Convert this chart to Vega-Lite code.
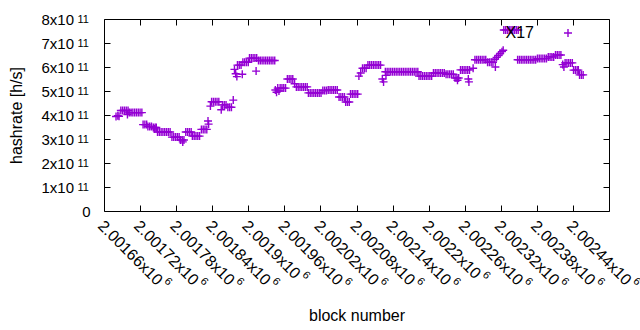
{
"$schema": "https://vega.github.io/schema/vega-lite/v6.json",
"autosize": {"type": "none"},
"padding": {"left": 104, "top": 19, "right": 31, "bottom": 119},
"width": 505,
"height": 192,
"background": "white",
"config": {
  "view": {"stroke": "black", "strokeWidth": 1},
  "font": "Liberation Sans",
  "axis": {"grid": false, "labelFont": "Liberation Sans", "titleFont": "Liberation Sans", "labelColor": "black", "titleColor": "black", "labelFontSize": 15, "titleFontSize": 16, "titleFontWeight": "normal", "tickColor": "black", "domain": false, "offset": 0}
},
"data": {"values": [
{"b":2001620,"h":3.94e11},{"b":2001623,"h":3.97e11},{"b":2001625,"h":3.95e11},
{"b":2001628,"h":4.19e11},{"b":2001631,"h":4.19e11},{"b":2001634,"h":4.19e11},{"b":2001637,"h":4.19e11},{"b":2001640,"h":4.19e11},
{"b":2001639,"h":4.02e11},
{"b":2001642,"h":4.1e11},{"b":2001645,"h":4.1e11},{"b":2001648,"h":4.1e11},{"b":2001651,"h":4.1e11},{"b":2001654,"h":4.1e11},{"b":2001657,"h":4.1e11},{"b":2001660,"h":4.1e11},{"b":2001663,"h":4.1e11},
{"b":2001665,"h":3.6e11},{"b":2001668,"h":3.6e11},{"b":2001671,"h":3.6e11},
{"b":2001673,"h":3.52e11},{"b":2001676,"h":3.52e11},{"b":2001679,"h":3.52e11},{"b":2001682,"h":3.48e11},{"b":2001685,"h":3.48e11},{"b":2001687,"h":3.48e11},{"b":2001684,"h":3.42e11},
{"b":2001689,"h":3.29e11},{"b":2001692,"h":3.29e11},{"b":2001695,"h":3.29e11},{"b":2001698,"h":3.29e11},{"b":2001701,"h":3.29e11},{"b":2001704,"h":3.29e11},{"b":2001707,"h":3.29e11},{"b":2001710,"h":3.29e11},
{"b":2001713,"h":3.08e11},{"b":2001716,"h":3.08e11},{"b":2001719,"h":3.08e11},{"b":2001722,"h":3.08e11},{"b":2001725,"h":3.08e11},
{"b":2001727,"h":2.96e11},{"b":2001730,"h":2.96e11},{"b":2001733,"h":2.96e11},{"b":2001731,"h":2.88e11},
{"b":2001736,"h":3.29e11},{"b":2001739,"h":3.29e11},{"b":2001742,"h":3.29e11},{"b":2001745,"h":3.29e11},
{"b":2001747,"h":3.12e11},{"b":2001750,"h":3.12e11},{"b":2001753,"h":3.12e11},{"b":2001756,"h":3.12e11},{"b":2001759,"h":3.12e11},
{"b":2001762,"h":3.4e11},{"b":2001765,"h":3.4e11},{"b":2001768,"h":3.4e11},{"b":2001771,"h":3.4e11},
{"b":2001773,"h":3.75e11},{"b":2001774,"h":3.62e11},
{"b":2001777,"h":4.37e11},
{"b":2001779,"h":4.55e11},{"b":2001782,"h":4.55e11},{"b":2001785,"h":4.55e11},{"b":2001788,"h":4.55e11},{"b":2001791,"h":4.55e11},
{"b":2001795,"h":4.22e11},
{"b":2001797,"h":4.42e11},{"b":2001800,"h":4.42e11},{"b":2001803,"h":4.42e11},{"b":2001806,"h":4.32e11},{"b":2001809,"h":4.32e11},{"b":2001812,"h":4.32e11},
{"b":2001815,"h":4.62e11},
{"b":2001817,"h":5.9e11},{"b":2001819,"h":5.72e11},{"b":2001821,"h":5.6e11},
{"b":2001822,"h":6.08e11},{"b":2001825,"h":6.08e11},{"b":2001828,"h":6.08e11},
{"b":2001830,"h":5.7e11},
{"b":2001831,"h":6.2e11},{"b":2001834,"h":6.2e11},{"b":2001837,"h":6.2e11},{"b":2001840,"h":6.2e11},
{"b":2001842,"h":6.37e11},{"b":2001845,"h":6.37e11},{"b":2001848,"h":6.37e11},{"b":2001851,"h":6.37e11},{"b":2001854,"h":6.37e11},
{"b":2001853,"h":5.83e11},
{"b":2001857,"h":6.27e11},{"b":2001860,"h":6.27e11},{"b":2001863,"h":6.27e11},{"b":2001866,"h":6.27e11},{"b":2001869,"h":6.27e11},{"b":2001872,"h":6.27e11},{"b":2001875,"h":6.27e11},{"b":2001878,"h":6.27e11},{"b":2001881,"h":6.27e11},{"b":2001884,"h":6.27e11},
{"b":2001885,"h":5.04e11},{"b":2001887,"h":4.95e11},{"b":2001889,"h":5.12e11},{"b":2001891,"h":5.0e11},
{"b":2001893,"h":5.12e11},{"b":2001896,"h":5.12e11},{"b":2001899,"h":5.12e11},{"b":2001902,"h":5.12e11},
{"b":2001905,"h":5.5e11},{"b":2001908,"h":5.5e11},{"b":2001911,"h":5.5e11},{"b":2001914,"h":5.5e11},
{"b":2001917,"h":5.3e11},
{"b":2001920,"h":5.17e11},{"b":2001923,"h":5.17e11},{"b":2001926,"h":5.17e11},{"b":2001929,"h":5.17e11},{"b":2001932,"h":5.17e11},{"b":2001935,"h":5.17e11},{"b":2001938,"h":5.17e11},
{"b":2001940,"h":4.92e11},{"b":2001943,"h":4.92e11},{"b":2001946,"h":4.92e11},{"b":2001949,"h":4.92e11},{"b":2001952,"h":4.92e11},{"b":2001955,"h":4.92e11},{"b":2001958,"h":4.92e11},{"b":2001961,"h":4.92e11},
{"b":2001964,"h":5.02e11},{"b":2001967,"h":5.02e11},{"b":2001970,"h":5.02e11},
{"b":2001973,"h":5.04e11},{"b":2001976,"h":5.04e11},{"b":2001979,"h":5.04e11},{"b":2001982,"h":5.04e11},{"b":2001985,"h":5.04e11},{"b":2001988,"h":5.04e11},
{"b":2001991,"h":4.75e11},{"b":2001994,"h":4.75e11},{"b":2001997,"h":4.75e11},{"b":2002000,"h":4.75e11},
{"b":2002002,"h":4.54e11},{"b":2002005,"h":4.54e11},{"b":2002008,"h":4.54e11},
{"b":2002010,"h":4.87e11},{"b":2002013,"h":4.87e11},{"b":2002016,"h":4.87e11},{"b":2002019,"h":4.87e11},{"b":2002022,"h":4.87e11},
{"b":2002024,"h":5.62e11},{"b":2002027,"h":5.75e11},
{"b":2002030,"h":5.95e11},{"b":2002033,"h":5.95e11},{"b":2002036,"h":5.95e11},
{"b":2002039,"h":6.08e11},{"b":2002042,"h":6.08e11},{"b":2002045,"h":6.08e11},{"b":2002048,"h":6.08e11},{"b":2002051,"h":6.08e11},{"b":2002054,"h":6.08e11},{"b":2002057,"h":6.08e11},{"b":2002060,"h":6.08e11},
{"b":2002063,"h":5.5e11},{"b":2002065,"h":5.38e11},{"b":2002069,"h":5.65e11},
{"b":2002068,"h":5.8e11},{"b":2002071,"h":5.8e11},{"b":2002074,"h":5.8e11},{"b":2002077,"h":5.8e11},{"b":2002080,"h":5.8e11},{"b":2002083,"h":5.8e11},{"b":2002086,"h":5.8e11},{"b":2002089,"h":5.8e11},{"b":2002092,"h":5.8e11},{"b":2002095,"h":5.8e11},{"b":2002098,"h":5.8e11},{"b":2002101,"h":5.8e11},{"b":2002104,"h":5.8e11},{"b":2002107,"h":5.8e11},{"b":2002110,"h":5.8e11},{"b":2002113,"h":5.8e11},{"b":2002116,"h":5.8e11},{"b":2002119,"h":5.8e11},{"b":2002122,"h":5.8e11},
{"b":2002124,"h":5.62e11},{"b":2002127,"h":5.62e11},{"b":2002130,"h":5.62e11},{"b":2002133,"h":5.62e11},{"b":2002136,"h":5.62e11},{"b":2002139,"h":5.62e11},{"b":2002142,"h":5.62e11},{"b":2002145,"h":5.62e11},
{"b":2002148,"h":5.75e11},{"b":2002151,"h":5.75e11},{"b":2002154,"h":5.75e11},{"b":2002157,"h":5.75e11},{"b":2002160,"h":5.75e11},{"b":2002163,"h":5.75e11},{"b":2002166,"h":5.75e11},
{"b":2002169,"h":5.7e11},{"b":2002172,"h":5.7e11},{"b":2002175,"h":5.7e11},{"b":2002178,"h":5.7e11},{"b":2002181,"h":5.7e11},
{"b":2002184,"h":5.54e11},{"b":2002187,"h":5.54e11},{"b":2002190,"h":5.54e11},{"b":2002188,"h":5.45e11},
{"b":2002193,"h":5.88e11},{"b":2002196,"h":5.88e11},{"b":2002199,"h":5.88e11},{"b":2002202,"h":5.88e11},{"b":2002205,"h":5.88e11},{"b":2002208,"h":5.88e11},
{"b":2002206,"h":5.5e11},{"b":2002207,"h":5.38e11},{"b":2002214,"h":5.95e11},
{"b":2002217,"h":6.3e11},{"b":2002220,"h":6.3e11},{"b":2002223,"h":6.3e11},{"b":2002226,"h":6.3e11},{"b":2002229,"h":6.3e11},{"b":2002232,"h":6.3e11},{"b":2002235,"h":6.3e11},
{"b":2002238,"h":6.2e11},{"b":2002241,"h":6.2e11},{"b":2002244,"h":6.2e11},{"b":2002247,"h":6.2e11},
{"b":2002251,"h":6.0e11},
{"b":2002250,"h":6.32e11},{"b":2002253,"h":6.4e11},{"b":2002256,"h":6.48e11},{"b":2002259,"h":6.56e11},{"b":2002262,"h":6.64e11},{"b":2002264,"h":6.7e11},
{"b":2002265,"h":7.54e11},{"b":2002268,"h":7.54e11},{"b":2002271,"h":7.54e11},{"b":2002274,"h":7.54e11},{"b":2002277,"h":7.54e11},{"b":2002280,"h":7.54e11},{"b":2002283,"h":7.54e11},{"b":2002286,"h":7.54e11},{"b":2002289,"h":7.54e11},
{"b":2002288,"h":6.3e11},{"b":2002291,"h":6.3e11},{"b":2002294,"h":6.3e11},{"b":2002297,"h":6.3e11},{"b":2002300,"h":6.3e11},{"b":2002303,"h":6.3e11},{"b":2002306,"h":6.3e11},{"b":2002309,"h":6.3e11},{"b":2002312,"h":6.3e11},{"b":2002315,"h":6.3e11},{"b":2002318,"h":6.3e11},
{"b":2002321,"h":6.35e11},{"b":2002324,"h":6.35e11},{"b":2002327,"h":6.35e11},{"b":2002330,"h":6.35e11},{"b":2002333,"h":6.35e11},{"b":2002336,"h":6.35e11},
{"b":2002339,"h":6.42e11},{"b":2002342,"h":6.42e11},{"b":2002345,"h":6.42e11},{"b":2002348,"h":6.42e11},
{"b":2002351,"h":6.5e11},{"b":2002354,"h":6.5e11},{"b":2002357,"h":6.5e11},{"b":2002360,"h":6.5e11},
{"b":2002363,"h":6.1e11},{"b":2002365,"h":6.0e11},
{"b":2002367,"h":6.17e11},{"b":2002370,"h":6.17e11},{"b":2002373,"h":6.17e11},{"b":2002376,"h":6.17e11},{"b":2002379,"h":6.17e11},
{"b":2002381,"h":5.87e11},{"b":2002384,"h":5.87e11},{"b":2002387,"h":5.87e11},{"b":2002389,"h":5.87e11},
{"b":2002391,"h":5.67e11},{"b":2002394,"h":5.67e11},{"b":2002397,"h":5.67e11}
]},
"layer": [
  {
    "mark": {"type": "point", "shape": "M-1,0H1M0,-1V1", "filled": false, "size": 64, "strokeWidth": 1.4, "opacity": 1},
    "encoding": {
      "x": {"field": "b", "type": "quantitative", "scale": {"domain": [2001600, 2002440], "nice": false, "zero": false},
        "axis": {"orient": "bottom", "title": "block number", "values": [2001660,2001720,2001780,2001840,2001900,2001960,2002020,2002080,2002140,2002200,2002260,2002320,2002380,2002440],
          "labelExpr": "format(datum.value/1e6, '.6~g') + 'x10'", "labelFontSize": 16, "labelAngle": 45, "labelAlign": "left", "labelBaseline": "middle", "labelOffset": -40, "labelPadding": 18, "labelOverlap": false, "labelBound": false, "labelFlush": false,
          "tickSize": -6, "titleY": 104, "titleBaseline": "middle"}},
      "y": {"field": "h", "type": "quantitative", "scale": {"domain": [0, 8e11], "nice": false},
        "axis": {"orient": "left", "title": "hashrate [h/s]", "values": [0,1e11,2e11,3e11,4e11,5e11,6e11,7e11,8e11],
          "labelExpr": "datum.value == 0 ? '0' : format(datum.value/1e11, 'd') + 'x10'",
          "labelPadding": {"condition": {"test": "datum.value == 0", "value": 20}, "value": 36.5}, "labelDy": 1, "tickSize": -6,
          "titleX": -88, "titleY": 96, "titleAngle": 270, "titleAlign": "center", "titleBaseline": "middle"}},
      "color": {"datum": "X17", "type": "nominal", "scale": {"range": ["#9400d3"]},
        "legend": {"orient": "none", "legendX": 456, "legendY": 6, "title": null, "labelAlign": "right", "labelOffset": -42, "labelFontSize": 16, "labelFont": "Liberation Sans", "labelColor": "black", "symbolType": "M-1,0H1M0,-1V1", "symbolSize": 64, "symbolStrokeWidth": 1.4, "symbolFillColor": "transparent"}}
    }
  },
  {
    "mark": {"type": "point", "opacity": 0},
    "encoding": {
      "x": {"field": "b", "type": "quantitative", "axis": {"orient": "top", "title": null, "labels": false, "tickSize": -6, "values": [2001660,2001720,2001780,2001840,2001900,2001960,2002020,2002080,2002140,2002200,2002260,2002320,2002380,2002440]}},
      "y": {"field": "h", "type": "quantitative", "axis": {"orient": "right", "title": null, "labels": false, "tickSize": -6, "values": [1e11,2e11,3e11,4e11,5e11,6e11,7e11]}}
    }
  },
  {
    "mark": {"type": "point", "opacity": 0},
    "encoding": {
      "x": {"field": "b", "type": "quantitative", "axis": {"orient": "bottom", "title": null, "ticks": false, "tickSize": 0, "values": [2001660,2001720,2001780,2001840,2001900,2001960,2002020,2002080,2002140,2002200,2002260,2002320,2002380,2002440],
        "labelExpr": "'6'", "labelFontSize": 11, "labelAngle": 45, "labelAlign": "left", "labelBaseline": "middle", "labelOverlap": false, "labelBound": false, "labelFlush": false,
        "labelOffset": {"condition": {"test": "datum.value == 2001900 || datum.value == 2002200", "value": 19}, "value": 25.2},
        "labelPadding": {"condition": {"test": "datum.value == 2001900 || datum.value == 2002200", "value": 62}, "value": 68.2}}},
      "y": {"field": "h", "type": "quantitative", "axis": {"orient": "left", "title": null, "ticks": false, "tickSize": 0, "values": [1e11,2e11,3e11,4e11,5e11,6e11,7e11,8e11],
        "labelExpr": "'11'", "labelFontSize": 11, "labelAlign": "left", "labelBaseline": "middle", "labelPadding": 27, "labelDy": -4}}
    }
  }
],
"resolve": {"axis": {"x": "independent", "y": "independent"}}
}
